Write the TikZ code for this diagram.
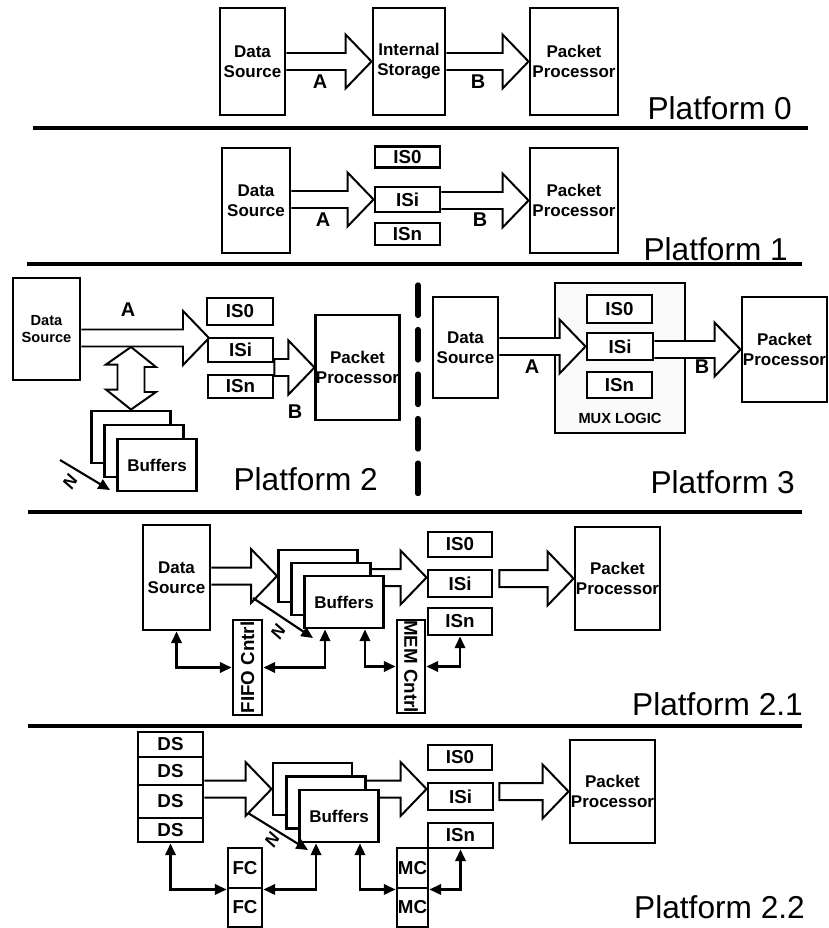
\documentclass[tikz,border=0pt]{standalone}
\usepackage{fontspec}
\setmainfont{Liberation Sans}
\usepackage{graphicx}
\usetikzlibrary{positioning,arrows.meta,calc,backgrounds}
\tikzset{
  pxsize/.style 2 args={minimum width=#1*0.03cm, minimum height=#2*0.03cm},
  blk/.style={draw, line width=2.5pt, fill=white, inner sep=0pt, align=center,
              font=\fontsize{14.5}{17}\selectfont\bfseries},
  isblk/.style={blk, pxsize={65}{25}, font=\fontsize{16}{17}\selectfont\bfseries},
  bufblk/.style={blk, pxsize={79}{52}},
  smallblk/.style={blk, font=\fontsize{16}{17}\selectfont\bfseries},
  fatline/.style={draw, line width=1.7pt, fill=white, line join=miter},
  ctrl/.style={{Triangle[length=10pt,width=9pt]}-{Triangle[length=10pt,width=9pt]}, line width=1.8pt},
  narrow/.style={-{Triangle[length=10pt,width=9pt]}, line width=1.8pt},
  sep/.style={line width=2.8pt},
  plat/.style={font=\fontsize{27}{30}\selectfont, anchor=base east, inner sep=0pt},
  lblab/.style={font=\fontsize{17}{18}\selectfont\bfseries},
  nlbl/.style={font=\fontsize{15}{15}\selectfont\bfseries\itshape, rotate=60},
}
% open shaft: starts at the edge of a box
\newcommand{\fatarrow}[2]{%
  \draw[fatline] ($(#1 |- #2)+(0,-8.5)$) -- ($(#2)+(-26,-8.5)$) -- ($(#2)+(-26,-27)$)
    -- (#2) -- ($(#2)+(-26,27)$) -- ($(#2)+(-26,8.5)$) -- ($(#1 |- #2)+(0,8.5)$);}
% closed shaft
\newcommand{\fatarrowclosed}[2]{%
  \draw[fatline] ($(#1 |- #2)+(0,-8.5)$) -- ($(#2)+(-26,-8.5)$) -- ($(#2)+(-26,-27)$)
    -- (#2) -- ($(#2)+(-26,27)$) -- ($(#2)+(-26,8.5)$) -- ($(#1 |- #2)+(0,8.5)$) -- cycle;}
\begin{document}
\begin{tikzpicture}[x=0.03cm, y=-0.03cm]
    \useasboundingbox (0,0) rectangle (828,928);
    % Platform 0
    \node[blk, pxsize={65}{107}] (ds0) at (252.5,61.5) {Data\\Source};
    \node[blk, pxsize={72}{107}] (st0) at (409,61.5) {Internal\\Storage};
    \node[blk, pxsize={88}{107}] (pp0) at (574,61.5) {Packet\\Processor};
    \fatarrow{ds0.east}{st0.west}
    \fatarrow{st0.east}{pp0.west}
    \node[lblab] (a0) at (320,82) {A};
    \node[lblab] (b0) at (478,82) {B};
    \node[plat] (pl0) at (792,120) {Platform 0};
    \draw[sep] (33,128) -- (808,128);
    % Platform 1
    \node[blk, pxsize={68}{105}] (ds1) at (256,200.5) {Data\\Source};
    \node[isblk, pxsize={65}{21}] (is01) at (407.5,157) {IS0};
    \node[isblk] (isi1) at (407.5,199.5) {ISi};
    \node[isblk, pxsize={65}{22}] (isn1) at (407.5,234) {ISn};
    \node[blk, pxsize={88}{105}] (pp1) at (574,200.5) {Packet\\Processor};
    \fatarrow{ds1.east}{isi1.west}
    \fatarrow{isi1.east}{pp1.west}
    \node[lblab] (a1) at (323,220) {A};
    \node[lblab] (b1) at (480,220) {B};
    \node[plat] (pl1) at (788,260) {Platform 1};
    \draw[sep] (27,264) -- (802,264);
    % Platform 2
    \node[blk, pxsize={67}{102}, font=\fontsize{12.5}{15}\selectfont\bfseries] (ds2) at (46.5,329) {Data\\Source};
    \node[isblk, pxsize={66}{27}] (is02) at (240,311.5) {IS0};
    \node[isblk, pxsize={65}{24}] (isi2) at (240.5,350) {ISi};
    \node[isblk, pxsize={65}{23}] (isn2) at (240.5,386.5) {ISn};
    \node[blk, pxsize={81}{105}] (pp2) at (357.5,367.5) {Packet\\Processor};
    \coordinate (tipa2) at (209,338);
    \fatarrow{ds2.east}{tipa2}
    \fatarrowclosed{isi2.east}{pp2.west}
    \node[lblab] (a2) at (128,310) {A};
    \node[lblab] (b2) at (295,412) {B};
    \node[bufblk] (bf2a) at (131,437) {};
    \node[bufblk] (bf2b) at (144,451) {};
    \node[bufblk] (bf2c) at (157,465) {Buffers};
    \coordinate (vtop) at (131,347);
    \draw[fatline] (vtop) -- ++(25,20) -- ++(-11.5,0) -- ++(0,25) -- ++(11.5,0) -- (bf2a.north)
      -- ++(-25,-20) -- ++(11.5,0) -- ++(0,-25) -- ++(-11.5,0) -- cycle;
    \coordinate (n2s) at (60,460);
    \coordinate (n2e) at (110,490);
    \draw[narrow] (n2s) -- (n2e);
    \node[nlbl] (n2) at (70,482) {N};
    \node[plat] (pl2) at (378,490) {Platform 2};
    \draw[line width=4.5pt, dash pattern=on 26pt off 12pt, line cap=round] (418,285) -- (418,497);
    % Platform 3
    \node[blk, pxsize={130}{150}, fill=gray!4] (mux) at (620,358) {};
    \node[font=\fontsize{12.5}{14}\selectfont\bfseries] (muxlbl) at (620,418) {MUX LOGIC};
    \node[blk, pxsize={65}{101}] (ds3) at (465.5,347.5) {Data\\Source};
    \node[isblk, pxsize={65}{28}] (is03) at (619.5,309) {IS0};
    \node[isblk, pxsize={66}{27}] (isi3) at (620,346.5) {ISi};
    \node[isblk, pxsize={65}{26}] (isn3) at (619.5,385) {ISn};
    \node[blk, pxsize={85}{105}] (pp3) at (784.5,349.5) {Packet\\Processor};
    \fatarrow{ds3.east}{isi3.west}
    \fatarrow{isi3.east}{pp3.west}
    \node[lblab] (a3) at (532,367) {A};
    \node[lblab] (b3) at (702,367) {B};
    \node[plat] (pl3) at (795,493) {Platform 3};
    \draw[sep] (28,512) -- (802,512);
    % Platform 2.1
    \node[blk, pxsize={67}{105}] (ds4) at (176.5,577.5) {Data\\Source};
    \node[isblk, pxsize={64}{25}] (is04) at (460,544.5) {IS0};
    \node[isblk, pxsize={64}{27}] (isi4) at (460,583.5) {ISi};
    \node[isblk, pxsize={64}{27}] (isn4) at (460,621.5) {ISn};
    \node[blk, pxsize={85}{103}] (pp4) at (617.5,578.5) {Packet\\Processor};
    \node[bufblk] (bf4a) at (318,576) {};
    \node[bufblk] (bf4b) at (331,589) {};
    \node[bufblk] (bf4c) at (344,602) {Buffers};
    \coordinate (tip4) at (isi4.west |- ds4.east);
    \begin{scope}[on background layer]
      \fatarrow{bf4b.east}{tip4}
    \end{scope}
    \fatarrow{ds4.east}{bf4a.west}
    \coordinate (s4) at ($(isi4.east)+(6,0)$);
    \fatarrowclosed{s4}{pp4.west}
    \draw[narrow] (253,598) coordinate (n4s) -- (313,638) coordinate (n4e);
    \node[nlbl] (n4) at (278,632) {N};
    \node[smallblk, pxsize={29}{95}] (fifo) at (247.5,667.5) {\rotatebox{90}{FIFO Cntrl}};
    \node[smallblk, pxsize={28}{93}] (mem) at (411,666.5) {\rotatebox{-90}{MEM Cntrl}};
    \draw[ctrl] (ds4.south) |- (fifo.west);
    \draw[ctrl] (fifo.east) -| ($(bf4c.south west)+(22,0)$);
    \draw[ctrl] ($(bf4c.south east)+(-20,0)$) |- (mem.west);
    \draw[ctrl] (mem.east) -| (isn4.south);
    \node[plat] (pl4) at (803,715) {Platform 2.1};
    \draw[sep] (28,726) -- (802,726);
    % Platform 2.2
    \node[smallblk, pxsize={65}{25}] (dsa) at (170.5,744.5) {DS};
    \node[smallblk, pxsize={65}{28}] (dsb) at (170.5,771) {DS};
    \node[smallblk, pxsize={65}{33}] (dsc) at (170.5,801.5) {DS};
    \node[smallblk, pxsize={65}{24}] (dsd) at (170.5,830) {DS};
    \node[isblk, pxsize={64}{25}] (is05) at (460,757.5) {IS0};
    \node[isblk, pxsize={65}{27}] (isi5) at (460.5,796.5) {ISi};
    \node[isblk, pxsize={65}{25}] (isn5) at (460.5,835.5) {ISn};
    \node[blk, pxsize={85}{103}] (pp5) at (612.5,791.5) {Packet\\Processor};
    \node[bufblk] (bf5a) at (312.5,789) {};
    \node[bufblk] (bf5b) at (326,802.5) {};
    \node[bufblk] (bf5c) at (339,816) {Buffers};
    \coordinate (tip5) at (isi5.west |- bf5a.west);
    \begin{scope}[on background layer]
      \fatarrow{bf5b.east}{tip5}
    \end{scope}
    \fatarrow{dsc.east}{bf5a.west}
    \coordinate (s5) at ($(isi5.east)+(5,0)$);
    \fatarrowclosed{s5}{pp5.west}
    \draw[narrow] (248,813) coordinate (n5s) -- (308,850) coordinate (n5e);
    \node[nlbl] (n5) at (272,840) {N};
    \node[smallblk, pxsize={34}{40}] (fca) at (245,868) {FC};
    \node[smallblk, pxsize={34}{39}] (fcb) at (245,907.5) {FC};
    \node[smallblk, pxsize={31}{40}] (mca) at (412.5,868) {MC};
    \node[smallblk, pxsize={31}{39}] (mcb) at (412.5,907.5) {MC};
    \draw[ctrl] (dsd.south) |- (fca.south west);
    \draw[ctrl] (fca.south east) -| ($(bf5c.south west)+(18,0)$);
    \draw[ctrl] ($(bf5c.south east)+(-20,0)$) |- (mca.south west);
    \draw[ctrl] (mca.south east) -| (isn5.south);
    \node[plat] (pl5) at (805,918) {Platform 2.2};
\end{tikzpicture}
\end{document}
